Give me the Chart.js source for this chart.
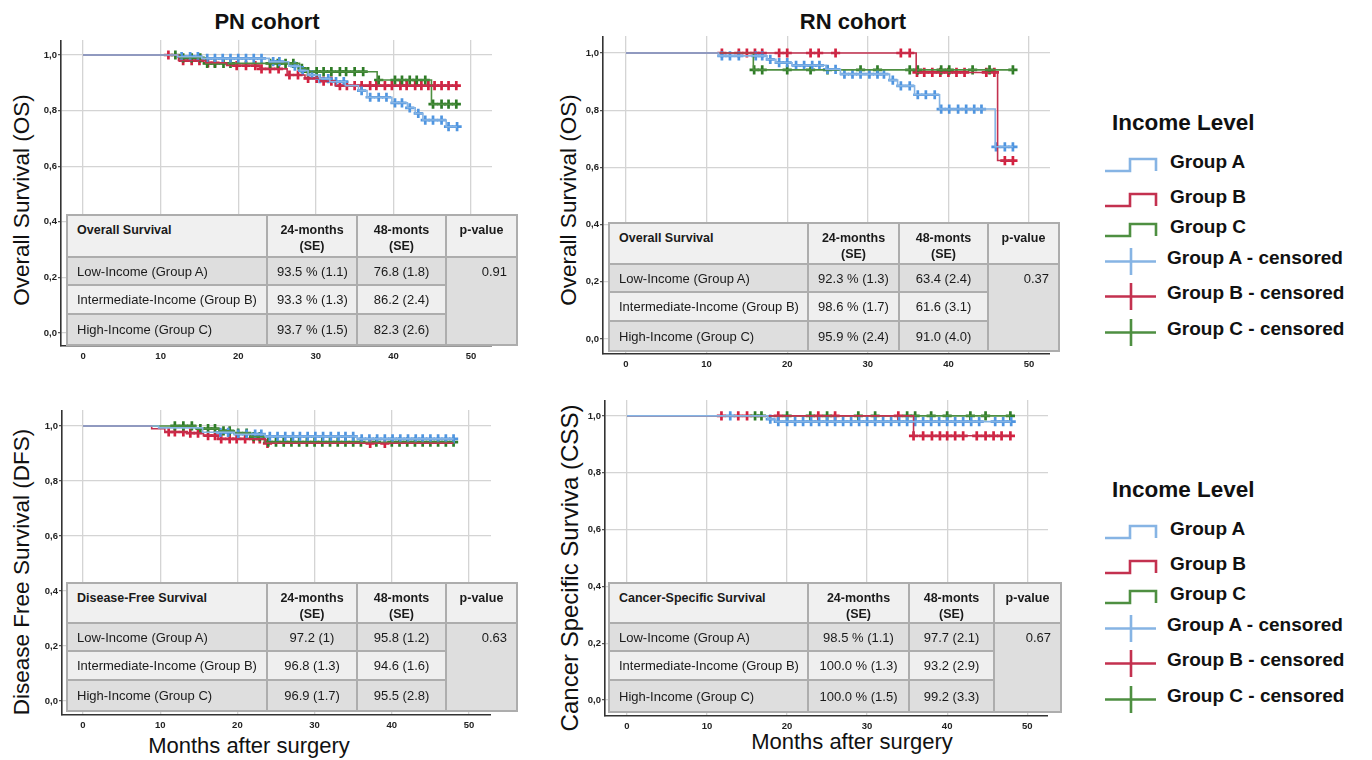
<!DOCTYPE html>
<html>
<head>
<meta charset="utf-8">
<script src="https://cdn.jsdelivr.net/npm/chart.js@4.4.1/dist/chart.umd.min.js"></script>
<style>
  body { margin: 0; background: #fff; width: 1372px; height: 760px; position: relative; overflow: hidden;
         font-family: "Liberation Sans", Arial, sans-serif; color: #111; }
  .box { position: absolute; }
  .title { position: absolute; font-weight: bold; font-size: 22px; transform: translate(-50%, -50%); white-space: nowrap; }
  .ytitle { position: absolute; font-size: 22.5px; white-space: nowrap; transform: translate(-50%, -50%) rotate(-90deg); }
  .xtitle { position: absolute; font-size: 22px; white-space: nowrap; transform: translate(-50%, -50%); }
  table.km { position: absolute; border-collapse: collapse; table-layout: fixed; font-size: 13px; color: #1a1a1a; z-index: 5; }
  table.km td { border: 2px solid #adadad; padding: 0 9px; white-space: nowrap; overflow: hidden; }
  table.km tr.head td { background: #f0f0f0; font-weight: bold; font-size: 12.5px; vertical-align: top; padding-top: 6px; line-height: 16px; text-align: center; }
  table.km tr.head td.first { text-align: left; }
  table.km tr.dark td { background: #dedede; }
  table.km tr.light td { background: #efefef; }
  table.km td.num { text-align: center; }
  table.km td.pval { background: #dedede !important; vertical-align: top; text-align: right; padding-top: 6px; }
  .leg-title { position: absolute; font-weight: bold; font-size: 22.5px; transform: translateY(-50%); white-space: nowrap; }
  .leg-item { position: absolute; font-weight: bold; font-size: 19px; transform: translateY(-50%); white-space: nowrap; }
  svg.icon { position: absolute; overflow: visible; }
</style>
</head>
<body>

<div class="title" style="left:267px; top:22px;">PN cohort</div>
<div class="title" style="left:853px; top:22px;">RN cohort</div>

<div class="ytitle" style="left:22px; top:200px;">Overall Survival (OS)</div>
<div class="ytitle" style="left:569px; top:200px;">Overall Survival (OS)</div>
<div class="ytitle" style="left:22px; top:572px;">Disease Free Survival (DFS)</div>
<div class="ytitle" style="left:570px; top:568px; font-size:24px;">Cancer Specific Surviva (CSS)</div>

<div class="xtitle" style="left:249px; top:746px;">Months after surgery</div>
<div class="xtitle" style="left:852px; top:742px;">Months after surgery</div>

<script>
// ------------------------------------------------------------
// Kaplan-Meier data
// time arrays = months where the curve steps, surv = level after the step
// cens arrays = months of censored patients (marked with +)
// ------------------------------------------------------------

// PN cohort - overall survival
const pnOsTimeA = [0, 12.2, 15.3, 24.0, 26.5, 28.0, 29.0, 30.5, 31.8, 33.8, 35.5, 36.6, 39.8, 41.8, 42.8, 43.8, 46.8, 48.2];
const pnOsSurvA = [1, 0.994, 0.988, 0.976, 0.960, 0.944, 0.928, 0.915, 0.904, 0.890, 0.872, 0.848, 0.828, 0.810, 0.790, 0.766, 0.742, 0.742];
const pnOsCensA = [12.7, 13.8, 14.8, 16.0, 17.0, 18.0, 19.0, 20.0, 21.0, 22.0, 23.0, 24.5, 25.3, 27.3, 28.3, 29.5, 30.5, 31.6, 32.6, 33.6, 35.9, 37.0, 38.1, 39.1, 40.2, 41.1, 42.1, 43.2, 44.1, 45.1, 46.2, 47.1, 48.2];

const pnOsTimeB = [0, 12.3, 15.8, 18.5, 22.8, 26.3, 28.6, 30.6, 32.5, 48.2];
const pnOsSurvB = [1, 0.980, 0.972, 0.962, 0.950, 0.928, 0.916, 0.906, 0.890, 0.890];
const pnOsCensB = [11.0, 12.9, 14.0, 15.0, 16.1, 17.0, 19.8, 21.0, 22.2, 23.0, 24.1, 25.2, 26.6, 27.7, 29.0, 30.1, 31.0, 32.0, 33.1, 34.0, 35.0, 35.9, 37.0, 37.8, 38.9, 39.8, 40.9, 41.7, 42.8, 43.6, 44.5, 45.3, 46.2, 47.1, 48.1];

const pnOsTimeC = [0, 12.5, 15.8, 27.9, 28.8, 37.9, 44.9, 48.1];
const pnOsSurvC = [1, 0.990, 0.970, 0.952, 0.940, 0.910, 0.823, 0.823];
const pnOsCensC = [11.9, 12.9, 14.0, 15.1, 16.0, 17.0, 18.1, 19.0, 24.1, 25.1, 26.1, 27.1, 28.2, 29.0, 30.1, 31.0, 32.0, 33.1, 33.9, 35.0, 36.1, 38.1, 40.2, 41.1, 42.1, 43.0, 44.1, 45.1, 46.2, 47.1, 48.1];

// RN cohort - overall survival
const rnOsTimeA = [0, 11.5, 17.5, 18.6, 20.6, 24.8, 26.6, 32.7, 33.7, 35.8, 38.9, 45.8, 48.0];
const rnOsSurvA = [1, 0.990, 0.978, 0.966, 0.957, 0.943, 0.926, 0.905, 0.885, 0.854, 0.804, 0.672, 0.672];
const rnOsCensA = [11.9, 12.9, 14.0, 16.1, 16.9, 17.9, 19.0, 20.0, 21.1, 22.1, 23.1, 24.0, 25.0, 26.0, 27.1, 28.1, 29.1, 30.2, 31.2, 32.0, 33.1, 34.1, 35.2, 36.2, 37.2, 38.3, 39.1, 40.1, 41.2, 42.2, 43.2, 44.1, 45.9, 47.0, 48.0];

const rnOsTimeB = [0, 36.0, 46.1, 48.0];
const rnOsSurvB = [1, 0.932, 0.624, 0.624];
const rnOsCensB = [11.9, 14.0, 15.0, 16.0, 16.9, 19.0, 20.0, 22.9, 23.9, 26.0, 34.1, 35.2, 36.1, 37.0, 38.0, 39.0, 40.0, 41.0, 42.0, 44.7, 45.7, 47.0, 48.0];

const rnOsTimeC = [0, 15.8, 48.0];
const rnOsSurvC = [1, 0.941, 0.941];
const rnOsCensC = [15.9, 16.9, 20.0, 22.9, 25.0, 29.1, 31.2, 35.2, 36.2, 39.1, 40.1, 43.0, 45.1, 48.0];

// PN cohort - disease free survival
const pnDfsTimeA = [0, 9.8, 15.5, 19.6, 23.6, 35.5, 48.0];
const pnDfsSurvA = [1, 0.993, 0.977, 0.970, 0.962, 0.953, 0.953];
const pnDfsCensA = [17.8, 18.8, 20.1, 21.2, 22.3, 23.1, 24.2, 25.2, 26.2, 27.2, 28.1, 29.1, 30.1, 31.1, 32.1, 33.1, 34.0, 35.0, 36.1, 37.1, 38.1, 39.1, 40.1, 41.1, 42.1, 43.1, 44.0, 45.0, 46.0, 47.0, 48.0];

const pnDfsTimeB = [0, 8.9, 10.6, 13.5, 15.6, 17.5, 23.6, 48.0];
const pnDfsSurvB = [1, 0.990, 0.978, 0.974, 0.965, 0.953, 0.937, 0.937];
const pnDfsCensB = [11.1, 11.9, 13.0, 13.9, 14.9, 16.2, 17.1, 17.9, 19.0, 19.9, 21.0, 22.1, 22.9, 23.9, 37.2, 39.1];

const pnDfsTimeC = [0, 14.6, 17.6, 19.6, 21.7, 23.5, 48.0];
const pnDfsSurvC = [1, 0.990, 0.982, 0.974, 0.961, 0.941, 0.941];
const pnDfsCensC = [11.9, 13.0, 14.1, 15.2, 16.2, 17.1, 18.2, 19.0, 20.1, 21.2, 22.1, 22.9, 24, 25, 26, 27, 28, 29, 30, 31, 32, 33, 34, 35, 36, 38, 40, 41, 42, 43, 44, 45, 46, 47, 48];

// RN cohort - cancer specific survival
const rnCssTimeA = [0, 17.6, 18.6, 48.0];
const rnCssSurvA = [1, 0.989, 0.980, 0.980];
const rnCssCensA = [12.9, 17.9, 18.9, 20, 21, 22, 23, 24, 25, 26, 27, 28, 29, 30, 31, 32, 33, 34, 35, 36, 37, 38, 39, 40, 41, 42, 43, 44, 46, 47, 48];

const rnCssTimeB = [0, 35.8, 47.9];
const rnCssSurvB = [1, 0.930, 0.930];
const rnCssCensB = [11.8, 13.9, 15.0, 18.9, 23.9, 26.0, 33.9, 35.8, 37.0, 38.1, 39.1, 40.0, 41.0, 42.0, 43.7, 44.8, 45.8, 46.8, 47.9];

const rnCssTimeC = [0, 47.9];
const rnCssSurvC = [1, 1];
const rnCssCensC = [16.0, 16.8, 20.0, 22.9, 25.0, 28.9, 31.0, 35.0, 36.0, 38.0, 40.0, 42.9, 44.8, 47.9];

// tables
const rowLabels = ['Low-Income (Group A)', 'Intermediate-Income (Group B)', 'High-Income (Group C)'];
const pnOs24 = ['93.5 % (1.1)', '93.3 % (1.3)', '93.7 % (1.5)'];
const pnOs48 = ['76.8 (1.8)', '86.2 (2.4)', '82.3 (2.6)'];
const rnOs24 = ['92.3 % (1.3)', '98.6 % (1.7)', '95.9 % (2.4)'];
const rnOs48 = ['63.4 (2.4)', '61.6 (3.1)', '91.0 (4.0)'];
const pnDfs24 = ['97.2 (1)', '96.8 (1.3)', '96.9 (1.7)'];
const pnDfs48 = ['95.8 (1.2)', '94.6 (1.6)', '95.5 (2.8)'];
const rnCss24 = ['98.5 % (1.1)', '100.0 % (1.3)', '100.0 % (1.5)'];
const rnCss48 = ['97.7 (2.1)', '93.2 (2.9)', '99.2 (3.3)'];

const legendLabels = ['Group A', 'Group B', 'Group C', 'Group A - censored', 'Group B - censored', 'Group C - censored'];

// ------------------------------------------------------------
// colours
// ------------------------------------------------------------
const lineColor = ['#86b4e4', '#c3314f', '#4e8f41'];
const censColor = ['#4f95e0', '#d3213f', '#2f7c27'];

const FONT = '"Liberation Sans", Arial, sans-serif';

function survAt(times, surv, t) {
  let s = surv[0];
  for (let i = 0; i < times.length; i++) if (times[i] <= t) s = surv[i];
  return s;
}
function stepPoints(times, surv) {
  return times.map((t, i) => ({ x: t, y: surv[i] }));
}
function censPoints(times, surv, cens) {
  return cens.map(t => ({ x: t, y: survAt(times, surv, t) }));
}

function makePanel(p) {
  const div = document.createElement('div');
  div.className = 'box';
  div.style.left = p.left + 'px';
  div.style.top = p.top + 'px';
  const cv = document.createElement('canvas');
  cv.width = p.width; cv.height = p.height;
  cv.style.width = p.width + 'px'; cv.style.height = p.height + 'px';
  div.appendChild(cv);
  document.body.appendChild(div);

  const datasets = [];
  p.groups.forEach((g, i) => {
    datasets.push({
      data: stepPoints(g[0], g[1]),
      stepped: true,
      borderColor: lineColor[i],
      borderWidth: 1.6,
      pointRadius: 0,
      fill: false
    });
  });
  [0, 2, 1].forEach(i => {
    const g = p.groups[i];
    datasets.push({
      data: censPoints(g[0], g[1], g[2]),
      showLine: false,
      pointStyle: 'cross',
      pointRadius: 4.6,
      pointBorderWidth: 2.7,
      pointBorderColor: censColor[i],
      borderColor: censColor[i]
    });
  });

  new Chart(cv, {
    type: 'line',
    data: { datasets },
    options: {
      responsive: false,
      animation: false,
      events: [],
      layout: { padding: 0, autoPadding: false },
      plugins: { legend: { display: false }, tooltip: { enabled: false } },
      scales: {
        x: {
          type: 'linear', min: p.xmin, max: p.xmax,
          ticks: { stepSize: 10, includeBounds: false, autoSkip: false, maxRotation: 0, padding: 5,
                   color: '#222', font: { family: FONT, size: 9.5, weight: 'bold' } },
          grid: { color: '#d4d4d4', lineWidth: 1.3, drawTicks: false },
          border: { display: true, color: '#333', width: 1.6 },
          afterFit: s => { s.height = 22; s.paddingLeft = 0; s.paddingRight = 0; }
        },
        y: {
          type: 'linear', min: p.ymin, max: p.ymax,
          ticks: { stepSize: 0.2, includeBounds: false, padding: 1, color: '#222',
                   font: { family: FONT, size: 9.5, weight: 'bold' },
                   callback: v => v.toFixed(1).replace('.', ',') },
          grid: { color: '#d4d4d4', lineWidth: 1.3, tickLength: 3, tickColor: '#555' },
          border: { display: true, color: '#333', width: 1.6 },
          afterFit: s => { s.width = p.yw; s.paddingTop = 0; s.paddingBottom = 0; }
        }
      }
    }
  });
}

function makeTable(t) {
  const tb = document.createElement('table');
  tb.className = 'km';
  tb.style.left = t.left + 'px';
  tb.style.top = t.top + 'px';
  tb.style.width = t.cols.reduce((a, b) => a + b, 0) + 'px';
  let html = '<colgroup>' + t.cols.map(c => '<col style="width:' + c + 'px">').join('') + '</colgroup>';
  html += '<tr class="head" style="height:' + t.rows[0] + 'px"><td class="first">' + t.name +
          '</td><td>24-months<br>(SE)</td><td>48-monts<br>(SE)</td><td>p-value</td></tr>';
  rowLabels.forEach((lab, i) => {
    html += '<tr class="' + (i === 1 ? 'light' : 'dark') + '" style="height:' + t.rows[i + 1] + 'px"><td>' + lab +
            '</td><td class="num">' + t.v24[i] + '</td><td class="num">' + t.v48[i] + '</td>' +
            (i === 0 ? '<td class="pval" rowspan="3">' + t.p + '</td>' : '') + '</tr>';
  });
  tb.innerHTML = html;
  document.body.appendChild(tb);
}

function makeLegend(top0) {
  const ys = [161.7, 196.7, 226.7, 258, 292.7, 329];
  const t = document.createElement('div');
  t.className = 'leg-title';
  t.style.left = '1112px'; t.style.top = (top0 + 123) + 'px';
  t.textContent = 'Income Level';
  document.body.appendChild(t);
  legendLabels.forEach((lab, i) => {
    const cy = top0 + ys[i];
    const c = lineColor[i % 3];
    const svg = document.createElementNS('http://www.w3.org/2000/svg', 'svg');
    svg.setAttribute('class', 'icon');
    svg.setAttribute('width', 56); svg.setAttribute('height', 40);
    svg.style.left = '1104px'; svg.style.top = (cy - 20) + 'px';
    if (i < 3) {
      svg.innerHTML = '<path d="M1,29 H26 V17 H52 V29" fill="none" stroke="' + c + '" stroke-width="2.6"/>';
    } else {
      svg.innerHTML = '<path d="M1,23.5 H52 M27,10 V37" fill="none" stroke="' + c + '" stroke-width="2.6"/>';
    }
    document.body.appendChild(svg);
    const d = document.createElement('div');
    d.className = 'leg-item';
    d.style.left = (i < 3 ? 1170 : 1167) + 'px';
    d.style.top = cy + 'px';
    d.textContent = lab;
    document.body.appendChild(d);
  });
}

makePanel({ left: 30, top: 40, width: 462, height: 328, yw: 31, xmin: -2.84, xmax: 52.7, ymin: -0.047, ymax: 1.054,
  groups: [[pnOsTimeA, pnOsSurvA, pnOsCensA], [pnOsTimeB, pnOsSurvB, pnOsCensB], [pnOsTimeC, pnOsSurvC, pnOsCensC]] });
makePanel({ left: 580, top: 36, width: 470, height: 340, yw: 23, xmin: -2.85, xmax: 52.6, ymin: -0.0524, ymax: 1.0594,
  groups: [[rnOsTimeA, rnOsSurvA, rnOsCensA], [rnOsTimeB, rnOsSurvB, rnOsCensB], [rnOsTimeC, rnOsSurvC, rnOsCensC]] });
makePanel({ left: 30, top: 410, width: 461, height: 327, yw: 32, xmin: -2.72, xmax: 52.85, ymin: -0.051, ymax: 1.058,
  groups: [[pnDfsTimeA, pnDfsSurvA, pnDfsCensA], [pnDfsTimeB, pnDfsSurvB, pnDfsCensB], [pnDfsTimeC, pnDfsSurvC, pnDfsCensC]] });
makePanel({ left: 580, top: 400, width: 468, height: 338, yw: 25, xmin: -2.75, xmax: 52.6, ymin: -0.056, ymax: 1.056,
  groups: [[rnCssTimeA, rnCssSurvA, rnCssCensA], [rnCssTimeB, rnCssSurvB, rnCssCensB], [rnCssTimeC, rnCssSurvC, rnCssCensC]] });

makeTable({ left: 66, top: 214, cols: [200, 90, 89, 71], rows: [42, 28, 29, 31], name: 'Overall Survival', v24: pnOs24, v48: pnOs48, p: '0.91' });
makeTable({ left: 608, top: 222, cols: [199, 91, 89, 71], rows: [41, 28, 29, 30], name: 'Overall Survival', v24: rnOs24, v48: rnOs48, p: '0.37' });
makeTable({ left: 66, top: 582, cols: [200, 90, 89, 71], rows: [40, 28, 29, 31], name: 'Disease-Free Survival', v24: pnDfs24, v48: pnDfs48, p: '0.63' });
makeTable({ left: 608, top: 582, cols: [199, 101, 85, 67], rows: [40, 28, 29, 32], name: 'Cancer-Specific Survival', v24: rnCss24, v48: rnCss48, p: '0.67' });

makeLegend(0);
makeLegend(367);
</script>
</body>
</html>
